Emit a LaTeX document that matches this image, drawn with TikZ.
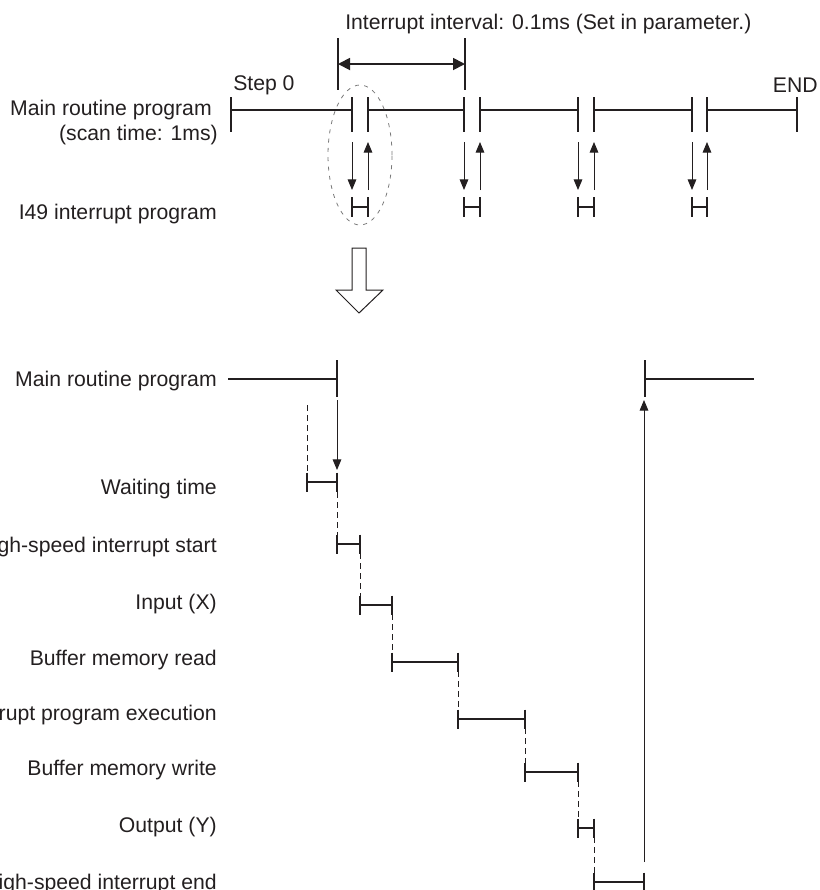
\documentclass[tikz,border=0pt]{standalone}
\usepackage{fontspec}
\setmainfont{Liberation Sans}
\usetikzlibrary{arrows.meta}
\definecolor{ink}{HTML}{231F20}
\definecolor{ringgray}{HTML}{7A7A7A}
\begin{document}
\begin{tikzpicture}[x=0.75pt,y=-0.75pt,
  lbl/.style={font=\fontsize{15.9pt}{19pt}\selectfont, text=ink, inner sep=0pt},
  seg/.style={draw=ink, line width=1.35pt},
  link/.style={draw=ink, line width=0.75pt},
  guide/.style={draw=ink, line width=0.7pt, dash pattern=on 4.5pt off 3pt},
  tipS/.style={-{Triangle[length=8pt,width=6.5pt]}},
  tipB/.style={{Triangle[length=9pt,width=9pt]}-{Triangle[length=9pt,width=9pt]}}]
\useasboundingbox (0,0) rectangle (820,890);

% ---------- top: interval ----------
\node[lbl, anchor=base west] (title) at (345,29) {Interrupt interval: 0.1ms (Set in parameter.)};
\coordinate (iL1) at (338,38); \coordinate (iL2) at (338,90);
\coordinate (iR1) at (465,38); \coordinate (iR2) at (465,90);
\draw[seg] (iL1)--(iL2);
\draw[seg] (iR1)--(iR2);
\coordinate (aL) at (338,64); \coordinate (aR) at (465,64);
\draw[seg, tipB] (aL)--(aR);

% ---------- top: labels ----------
\node[lbl, anchor=base west] (step) at (233,90) {Step 0};
\node[lbl, anchor=base east] (endl) at (818,92) {END};
\node[lbl, anchor=base east] (main1) at (212,115) {Main routine program};
\node[lbl, anchor=base east] (scan) at (218,140) {(scan time: 1ms)};
\node[lbl, anchor=base east] (i49) at (217,219) {I49 interrupt program};

% ---------- top: main routine line ----------
\foreach \a/\b in {231/352, 368/464, 480/578, 594/692, 707/797}
  \draw[seg] (\a,110)--(\b,110);
\foreach \x in {231,352,368,464,480,578,594,692,707,797}
  \draw[seg] (\x,97)--(\x,132);

% ---------- top: interrupts ----------
\foreach \a/\b in {352/368, 464/480, 578/594, 692/707}{
  \draw[link, tipS] (\a,142)--(\a,190);
  \draw[link, tipS] (\b,190)--(\b,142);
  \draw[seg] (\a,197)--(\a,217) (\b,197)--(\b,217) (\a,207)--(\b,207);
}
\draw[ringgray, line width=0.6pt, dash pattern=on 3pt off 4pt] (360,155) ellipse [x radius=24pt, y radius=52.5pt];

% ---------- hollow arrow ----------
\draw[link, fill=white, line join=miter] (352,248)--(366,248)--(366,290)--(383,290)--(359,313)--(336,290)--(352,290)--cycle;

% ---------- bottom labels ----------
\node[lbl, anchor=base east] (bmain) at (217,386) {Main routine program};
\node[lbl, anchor=base east] (lwait) at (217,494) {Waiting time};
\node[lbl, anchor=base east] (lstart) at (217,552) {High-speed interrupt start};
\node[lbl, anchor=base east] (lin) at (217,609) {Input (X)};
\node[lbl, anchor=base east] (lread) at (217,665) {Buffer memory read};
\node[lbl, anchor=base east] (lexec) at (217,720) {Interrupt program execution};
\node[lbl, anchor=base east] (lwrite) at (217,775) {Buffer memory write};
\node[lbl, anchor=base east] (lout) at (217,832) {Output (Y)};
\node[lbl, anchor=base east] (lend) at (217,889) {High-speed interrupt end};

% ---------- bottom: main routine ----------
\draw[seg] (228,379)--(337,379);
\draw[seg] (337,360)--(337,397);
\draw[link, tipS] (337,400)--(337,470);
\draw[guide] (307,405)--(307,473);

\draw[seg] (645,360)--(645,397);
\draw[seg] (645,379)--(754,379);
\draw[link, tipS] (644,862)--(644,400);

% ---------- bottom: steps ----------
\foreach \xa/\xb/\y in {307/337/482, 337/360/544, 360/392/605, 392/458/662, 458/525/719, 525/578/772, 578/594/828, 594/644/882}{
  \draw[seg] (\xa,\y)--(\xb,\y);
  \draw[seg] (\xa,\y-9.5)--(\xa,\y+9.5);
  \draw[seg] (\xb,\y-9.5)--(\xb,\y+9.5);
}
\foreach \x/\ya/\yb in {337/492/535, 360/553/596, 392/614/653, 458/671/710, 525/728/763, 578/781/819, 594/837/873}
  \draw[guide] (\x,\ya)--(\x,\yb);
\end{tikzpicture}
\end{document}
